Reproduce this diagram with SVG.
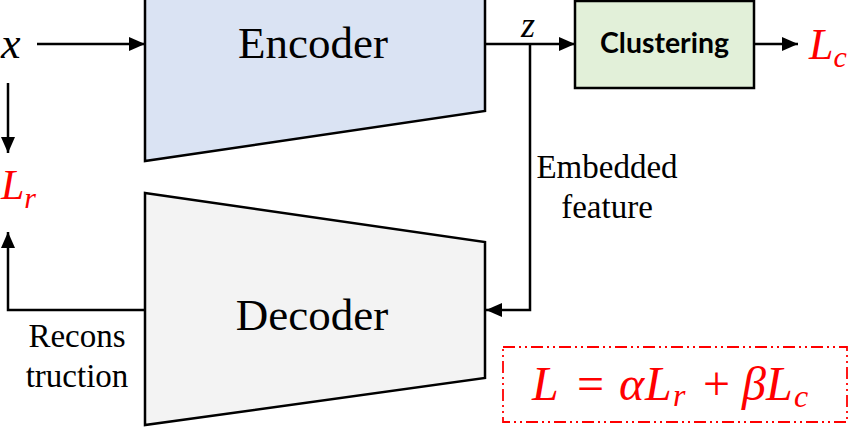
<svg xmlns="http://www.w3.org/2000/svg" width="850" height="428" viewBox="0 0 850 428">
<defs>
<style>
.shape{stroke:#000;stroke-width:2.5;stroke-linejoin:miter}
.line{fill:none;stroke:#000;stroke-width:2.5}
.lbl{font-family:"Liberation Serif","Times New Roman",serif;fill:#000}
.math{font-family:"Liberation Serif","Times New Roman",serif;font-style:italic}
.red{fill:#ff0000}
</style>
<marker id="ah" viewBox="0 0 16 14" refX="16" refY="7" markerWidth="16" markerHeight="14" markerUnits="userSpaceOnUse" orient="auto">
<path d="M0,0 L16,7 L0,14 Z" fill="#000"/>
</marker>
</defs>
<rect width="850" height="428" fill="#fff"/>

<g id="connectors">
<line class="line" x1="37" y1="44" x2="145" y2="44" marker-end="url(#ah)"/>
<line class="line" x1="8" y1="83" x2="8" y2="153" marker-end="url(#ah)"/>
<line class="line" x1="485" y1="44" x2="575" y2="44" marker-end="url(#ah)"/>
<line class="line" x1="754" y1="44" x2="798" y2="44" marker-end="url(#ah)"/>
<polyline class="line" points="530,44 530,310 486,310" marker-end="url(#ah)"/>
<polyline class="line" points="145,310 8,310 8,232" marker-end="url(#ah)"/>
</g>

<g id="encoder">
<polygon class="shape" points="145,-71 485,-25 485,111 145,161" fill="#dae3f3"/>
<text class="lbl" x="313" y="58" font-size="45" text-anchor="middle">Encoder</text>
</g>

<g id="decoder">
<polygon class="shape" points="145,193 485,242 485,378 145,425" fill="#f3f3f3"/>
<text class="lbl" x="312" y="330" font-size="45" text-anchor="middle">Decoder</text>
</g>

<g id="clustering">
<rect class="shape" x="575" y="1" width="179" height="87" fill="#e2f0d9"/>
<text x="600" y="53" font-family="Lato,'Liberation Sans',Arial,sans-serif" font-weight="bold" font-size="28" textLength="129" lengthAdjust="spacingAndGlyphs">Clustering</text>
</g>

<g id="input-x">
<text class="math" x="1" y="58" font-size="44">x</text>
</g>

<g id="z-label">
<text class="math" x="521" y="37" font-size="36">z</text>
</g>

<g id="loss-r">
<text class="math red" x="1" y="199" font-size="42">L<tspan font-size="30" dy="9">r</tspan></text>
</g>

<g id="loss-c">
<text class="math red" x="809" y="59" font-size="44">L<tspan font-size="30" dy="8">c</tspan></text>
</g>

<g id="embedded-label">
<text class="lbl" x="607" y="178" font-size="33" text-anchor="middle">Embedded</text>
<text class="lbl" x="607" y="218" font-size="33" text-anchor="middle">feature</text>
</g>

<g id="recons-label">
<text class="lbl" x="77" y="347" font-size="33" text-anchor="middle">Recons</text>
<text class="lbl" x="77" y="387" font-size="33" text-anchor="middle">truction</text>
</g>

<g id="total-loss">
<rect x="503" y="347" width="344" height="75" fill="none" stroke="#ff0000" stroke-width="1.8" stroke-dasharray="12,4,2,4,2,4"/>
<text class="red" y="400" font-size="48" font-family="'Liberation Serif','Times New Roman',serif"><tspan x="532" font-style="italic">L</tspan><tspan x="577">=</tspan><tspan x="619" font-style="italic">α</tspan><tspan x="645" font-style="italic">L</tspan><tspan x="673" dy="6" font-size="32" font-style="italic">r</tspan><tspan x="703" dy="-6">+</tspan><tspan x="742" font-style="italic">β</tspan><tspan x="766" font-style="italic">L</tspan><tspan x="794" dy="7" font-size="32" font-style="italic">c</tspan></text>
</g>
</svg>
